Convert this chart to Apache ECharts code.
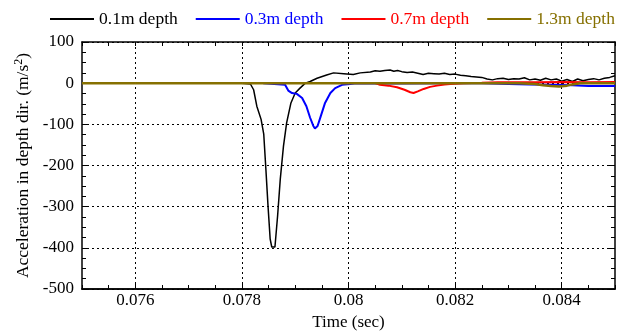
<!DOCTYPE html>
<html>
<head>
<meta charset="utf-8">
<script src="https://cdn.jsdelivr.net/npm/echarts@6/dist/echarts.min.js"></script>
<style>
  html, body { margin: 0; padding: 0; background: #fff; }
  #chart { width: 627px; height: 336px; }
</style>
</head>
<body>
<div id="chart"></div>
<script>
// tick labels
const xMajor = [0.076, 0.078, 0.08, 0.082, 0.084];
const seriesNames = ["0.1m depth", "0.3m depth", "0.7m depth", "1.3m depth"];
const seriesColors = ["#000000", "#0000ff", "#ff0000", "#867000"];

// [time (sec), acceleration (m/s2)]
const depth01 = [
  [0.07759, 0], [0.07800, -0.5], [0.07816, -2], [0.07822, -16], [0.07828, -56],
  [0.07836, -88], [0.07841, -124], [0.07845, -209], [0.07849, -298], [0.07853, -378],
  [0.07856, -398], [0.07862, -398], [0.07867, -322], [0.07872, -233], [0.07878, -153],
  [0.07884, -96], [0.07892, -48], [0.07900, -24], [0.07909, -12], [0.07919, 0],
  [0.07928, 4], [0.07941, 12], [0.07959, 20], [0.07972, 25], [0.07991, 23],
  [0.08009, 21], [0.08022, 25], [0.08041, 27], [0.08050, 30], [0.08059, 29],
  [0.08068, 31], [0.08078, 32], [0.08085, 29], [0.08092, 31], [0.08100, 28],
  [0.08110, 26], [0.08120, 27], [0.08130, 24], [0.08140, 21], [0.08150, 24],
  [0.08160, 23], [0.08170, 22], [0.08180, 24], [0.08190, 21], [0.08200, 22],
  [0.08210, 19], [0.08220, 18], [0.08230, 16], [0.08240, 15], [0.08250, 14],
  [0.08260, 10], [0.08270, 8], [0.08280, 11], [0.08290, 12], [0.08300, 9],
  [0.08310, 11], [0.08320, 10], [0.08330, 13], [0.08340, 8], [0.08350, 10],
  [0.08360, 7], [0.08370, 12], [0.08380, 8], [0.08390, 10], [0.08400, 5],
  [0.08410, 9], [0.08420, 4], [0.08430, 10], [0.08440, 6], [0.08450, 9],
  [0.08460, 11], [0.08470, 8], [0.08480, 12], [0.08490, 14], [0.08500, 18]
];
const depth03 = [
  [0.07840, 0], [0.07881, -4], [0.07887, -18], [0.07894, -24], [0.07903, -26],
  [0.07913, -36], [0.07921, -56], [0.07928, -84], [0.07934, -104], [0.07937, -110],
  [0.07942, -104], [0.07948, -80], [0.07956, -48], [0.07966, -24], [0.07975, -12],
  [0.07988, -4], [0.08003, -2], [0.08016, 0], [0.08100, -1], [0.08200, 0],
  [0.08250, 0], [0.08300, -2], [0.08340, -3], [0.08380, -4], [0.08420, -5],
  [0.08450, -7], [0.08500, -7]
];
const depth07 = [
  [0.08050, 0], [0.08059, -4], [0.08075, -6], [0.08091, -10], [0.08105, -16],
  [0.08116, -22], [0.08122, -24], [0.08130, -20], [0.08141, -14], [0.08153, -9],
  [0.08166, -6], [0.08180, -3], [0.08191, -2], [0.08215, 0], [0.08250, 1],
  [0.08280, 2], [0.08350, 2], [0.08400, 3], [0.08450, 2], [0.08500, 3]
];
const depth13 = [
  [0.07500, 0], [0.08320, 0], [0.08350, -2], [0.08365, -5], [0.08380, -7],
  [0.08395, -8], [0.08410, -6], [0.08420, -3], [0.08435, 0], [0.08500, 0]
];

const font = "Liberation Serif";
const chart = echarts.init(document.getElementById("chart"), null, { renderer: "canvas" });

const mirrorX = (position) => ({
  type: "value", min: 0.075, max: 0.085, interval: 0.0005, position,
  axisLine: { show: true, onZero: false, lineStyle: { color: "#000", width: 1.5 } },
  axisTick: { show: true, inside: true, length: 4, lineStyle: { color: "#000" } },
  axisLabel: { show: false },
  splitLine: { show: false }
});

chart.setOption({
  animation: false,
  backgroundColor: "#fff",
  grid: { left: 82, right: 12, top: 42, bottom: 46 },
  legend: {
    left: 44, top: 5, itemWidth: 44, itemHeight: 14, itemGap: 17,
    itemStyle: { opacity: 0 },
    textStyle: { fontFamily: font, fontSize: 17.5 },
    data: seriesNames.map((n, i) => ({ name: n, textStyle: { color: seriesColors[i] } }))
  },
  xAxis: [
    {
      type: "value", min: 0.075, max: 0.085, interval: 0.001, position: "bottom",
      name: "Time (sec)", nameLocation: "middle", nameGap: 25,
      nameTextStyle: { color: "#000", fontFamily: font, fontSize: 17 },
      axisLine: { show: true, onZero: false, lineStyle: { color: "#000", width: 1.5 } },
      axisTick: { show: true, inside: true, length: 6, customValues: xMajor, lineStyle: { color: "#000" } },
      axisLabel: {
        customValues: xMajor, margin: 3, color: "#000", fontFamily: font, fontSize: 17,
        formatter: (v) => String(+v.toFixed(3))
      },
      splitLine: { show: true, lineStyle: { color: "#000", type: [2, 3], width: 1 } }
    },
    mirrorX("bottom"),
    mirrorX("top")
  ],
  yAxis: [
    {
      type: "value", min: -500, max: 100, interval: 100, position: "left",
      name: "Acceleration in depth dir. (m/s{sup|2})", nameLocation: "middle", nameGap: 44,
      nameTextStyle: {
        color: "#000", fontFamily: font, fontSize: 17.5,
        rich: { sup: { fontFamily: font, fontSize: 12, verticalAlign: "top", padding: [0, 0, 8, 0], color: "#000" } }
      },
      axisLine: { show: true, onZero: false, lineStyle: { color: "#000", width: 1.5 } },
      axisTick: { show: true, inside: true, length: 6, lineStyle: { color: "#000" } },
      minorTick: { show: true, splitNumber: 4, length: 4, lineStyle: { color: "#000" } },
      axisLabel: { margin: 8, color: "#000", fontFamily: font, fontSize: 17 },
      splitLine: { show: true, lineStyle: { color: "#000", type: [2, 3], width: 1 } }
    },
    {
      type: "value", min: -500, max: 100, interval: 100, position: "right",
      axisLine: { show: true, onZero: false, lineStyle: { color: "#000", width: 1.5 } },
      axisTick: { show: true, inside: true, length: 6, lineStyle: { color: "#000" } },
      minorTick: { show: true, splitNumber: 4, length: 4, lineStyle: { color: "#000" } },
      axisLabel: { show: false },
      splitLine: { show: false }
    }
  ],
  series: [depth01, depth03, depth07, depth13].map((d, i) => ({
    name: seriesNames[i],
    type: "line",
    data: d,
    xAxisIndex: 0,
    yAxisIndex: 0,
    symbol: "none",
    color: seriesColors[i],
    lineStyle: { color: seriesColors[i], width: [1.5, 2, 2, 2.5][i] }
  }))
});
</script>
</body>
</html>
